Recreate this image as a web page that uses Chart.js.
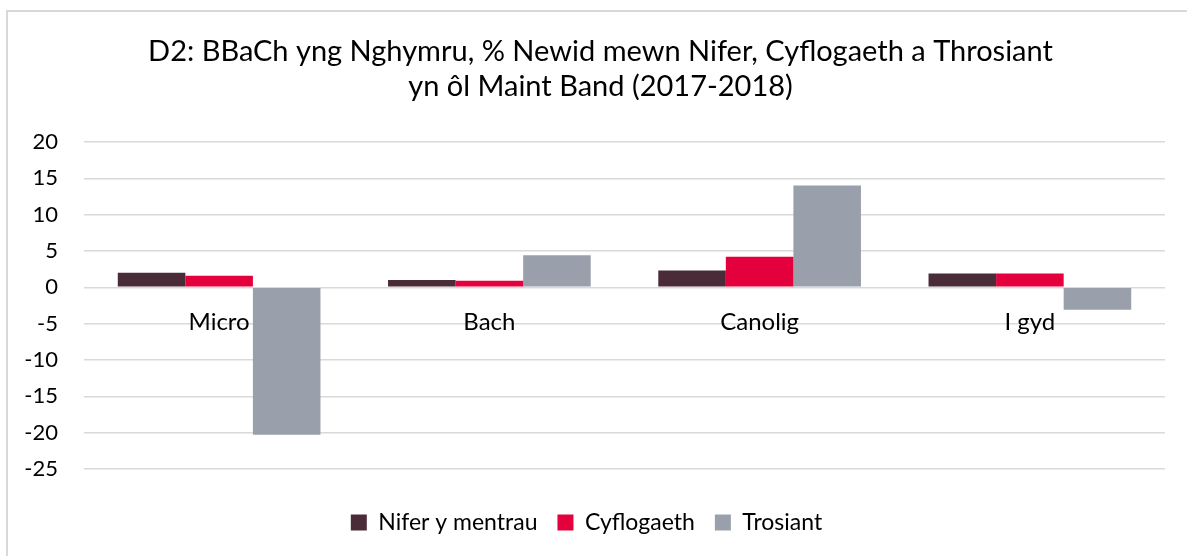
<!DOCTYPE html>
<html>
<head>
<meta charset="utf-8">
<script src="https://cdn.jsdelivr.net/npm/chart.js@4/dist/chart.umd.min.js"></script>
<style>
  html, body { margin: 0; padding: 0; background: #fff; }
  #wrap { position: relative; width: 1187px; height: 556px; overflow: hidden; }
  #frame { position: absolute; left: 6px; top: 10px; width: 1200px; height: 600px;
           border-top: 2px solid #d9d9d9; border-left: 2px solid #d9d9d9; box-sizing: border-box; }
  canvas { position: absolute; left: 0; top: 0; }
</style>
</head>
<body>
<div id="wrap">
  <div id="frame"></div>
  <canvas id="c" width="1187" height="556"></canvas>
</div>
<script>
const titleLines = ["D2: BBaCh yng Nghymru, % Newid mewn Nifer, Cyflogaeth a Throsiant", "yn ôl Maint Band (2017-2018)"];
const categories = ["Micro", "Bach", "Canolig", "I gyd"];
const seriesNames = ["Nifer y mentrau", "Cyflogaeth", "Trosiant"];
const niferValues = [2.0, 1.0, 2.3, 1.9];
const cyflogaethValues = [1.6, 0.9, 4.2, 1.9];
const trosiantValues = [-20.3, 4.4, 14.0, -3.1];
const yTicks = [20, 15, 10, 5, 0, -5, -10, -15, -20, -25];
const seriesColors = ["#4A2C39", "#E3003C", "#9AA0AB"];

const FONT = "Lato, 'Open Sans', sans-serif";

const legendShift = {
  id: 'legendShift',
  afterLayout(chart) {
    const lg = chart.legend;
    if (lg) { lg.left -= 14; lg.right -= 14; }
  }
};

new Chart(document.getElementById('c'), {
  type: 'bar',
  data: {
    labels: categories,
    datasets: [
      { label: seriesNames[0], data: niferValues, backgroundColor: seriesColors[0] },
      { label: seriesNames[1], data: cyflogaethValues, backgroundColor: seriesColors[1] },
      { label: seriesNames[2], data: trosiantValues, backgroundColor: seriesColors[2] }
    ]
  },
  plugins: [legendShift],
  options: {
    responsive: false,
    animation: false,
    devicePixelRatio: 1,
    layout: { padding: { left: 18, right: 4, top: 0, bottom: 12 } },
    datasets: { bar: { categoryPercentage: 0.75, barPercentage: 1.0 } },
    scales: {
      x: {
        position: { y: 0 },
        grid: { display: false, drawTicks: false },
        border: { display: false },
        ticks: { color: '#000', font: { family: FONT, size: 24 }, padding: 21, maxRotation: 0 }
      },
      y: {
        min: -25, max: 20,
        afterBuildTicks: (scale) => { scale.ticks = yTicks.map(v => ({ value: v })); },
        afterFit: (scale) => { scale.width = 66; },
        grid: { color: '#d9d9d9', lineWidth: 1.5, drawTicks: false },
        border: { display: false },
        ticks: { color: '#000', font: { family: FONT, size: 22 }, padding: 26 }
      },
      yRight: {
        type: 'linear',
        position: 'right',
        min: 0, max: 1,
        afterFit: (scale) => { scale.width = 18; },
        grid: { display: false, drawTicks: false },
        border: { display: false },
        ticks: { display: false }
      }
    },
    plugins: {
      title: {
        display: true,
        text: titleLines,
        color: '#000',
        font: { family: FONT, size: 29, weight: 'normal', lineHeight: 35 / 29 },
        padding: { top: 34, bottom: 38 }
      },
      legend: {
        position: 'bottom',
        title: { display: true, text: '', font: { size: 8, lineHeight: 1 }, padding: 7 },
        labels: {
          color: '#000',
          font: { family: FONT, size: 23 },
          boxWidth: 16, boxHeight: 16,
          padding: 20
        }
      },
      tooltip: { enabled: false }
    }
  }
});
</script>
</body>
</html>
